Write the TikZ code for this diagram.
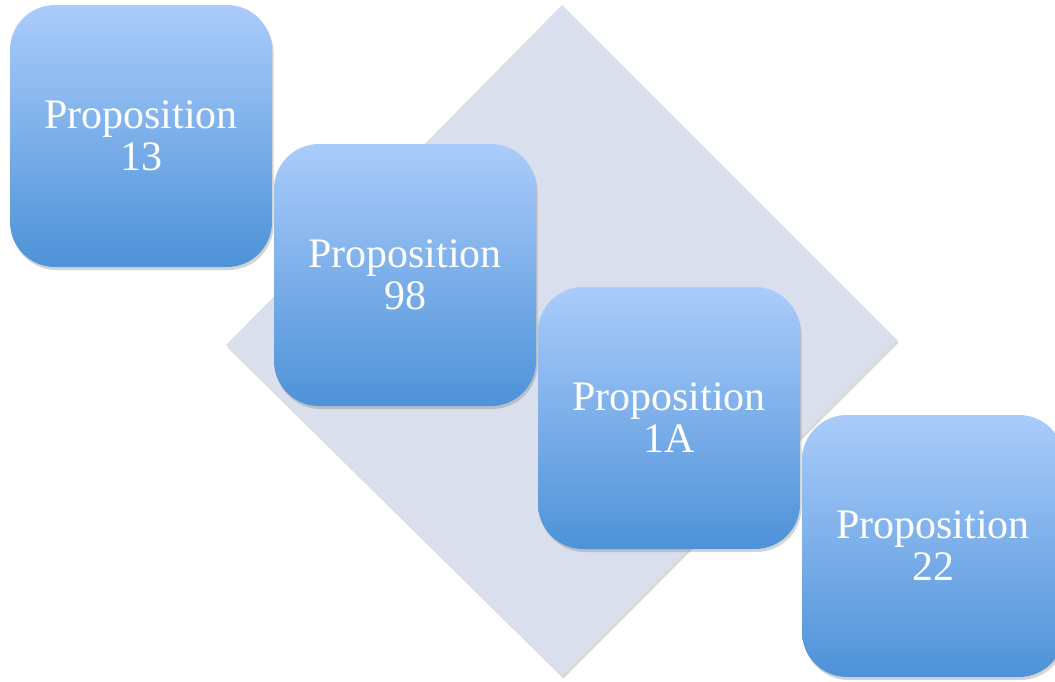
\documentclass[tikz,border=0pt]{standalone}
\usepackage{fontspec}
\setmainfont{Liberation Serif}
\usetikzlibrary{shadows}

\definecolor{boxtop}{HTML}{AACCFB}
\definecolor{boxbot}{HTML}{4E92D8}
\definecolor{diamfill}{HTML}{D9DFED}

\begin{document}
\begin{tikzpicture}[
  x=1pt, y=-1pt,
  propbox/.style={rounded corners=45pt, minimum width=262pt, minimum height=262pt,
                  top color=boxtop, bottom color=boxbot, text=white, align=center,
                  font=\fontsize{42}{42}\selectfont, inner sep=0pt,
                  drop shadow={shadow xshift=1.5pt, shadow yshift=-3pt, opacity=0.35}},
  backdiamond/.style={fill=diamfill,
                  drop shadow={shadow xshift=1.5pt, shadow yshift=-2.5pt, opacity=0.3}}
]
\useasboundingbox (0,0) rectangle (1055,681);

% ---------------------------------------------- the diamond behind
\coordinate (dtop) at (562,5);
\coordinate (dright) at (897,340);
\coordinate (dbot) at (562,676);
\coordinate (dleft) at (226,345);
\path[backdiamond] (dtop) -- (dright) -- (dbot) -- (dleft) -- cycle;

% ---------------------------------------------- the four steps
\node[propbox] (p13) at (141,136) {Proposition\\13};
\node[propbox] (p98) at (405,275) {Proposition\\98};
\node[propbox] (p1a) at (669,418) {Proposition\\1A};
\node[propbox] (p22) at (933,546) {Proposition\\22};

\end{tikzpicture}
\end{document}
